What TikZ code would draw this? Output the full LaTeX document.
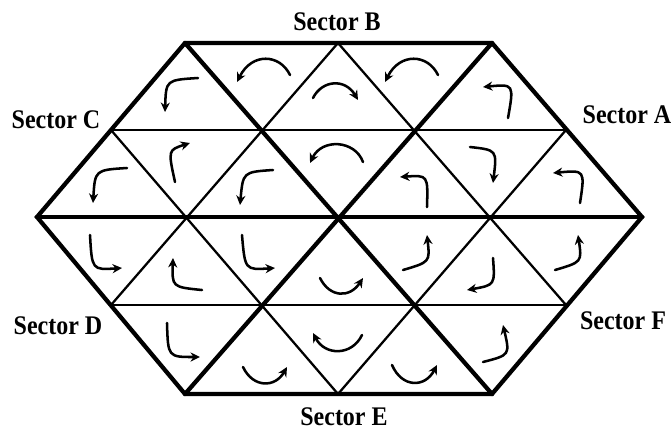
\documentclass[tikz,border=0pt]{standalone}
\usepackage{graphicx}
\usepackage{fontspec}
\setmainfont{Liberation Serif}
\usetikzlibrary{arrows.meta}
\tikzset{
  hexline/.style ={line width=3.2pt,line join=miter,line cap=round},
  gridline/.style={line width=1.7pt},
  flow/.style    ={line width=1.9pt,line cap=round,
                   -{Stealth[length=2.5mm,width=2.4mm]}},
  sector/.style  ={font=\fontsize{18}{20}\selectfont\bfseries,inner sep=0pt},
}
\newcommand{\sect}[1]{\scalebox{1}[1.12]{Sector #1}}

\begin{document}
\begin{tikzpicture}[x=0.75pt,y=-0.75pt]
\useasboundingbox (0,0) rectangle (671,430);
% lattice points, row by row
\coordinate (r0a) at (185,43); \coordinate (r0b) at (338,43); \coordinate (r0c) at (492,43);
\coordinate (r1a) at (111,130); \coordinate (r1b) at (263,130);
\coordinate (r1c) at (415,130); \coordinate (r1d) at (566,130);
\coordinate (r2a) at (37,217); \coordinate (r2b) at (188,217); \coordinate (r2c) at (340,217);
\coordinate (r2d) at (491,217); \coordinate (r2e) at (642,217);
\coordinate (r3a) at (111,305); \coordinate (r3b) at (263,305);
\coordinate (r3c) at (415,305); \coordinate (r3d) at (566,305);
\coordinate (r4a) at (185,394); \coordinate (r4b) at (338,394); \coordinate (r4c) at (492,394);
% thin lines inside the sectors
\draw[gridline] (r1a) -- (r1d); \draw[gridline] (r3a) -- (r3d);
\draw[gridline] (r1a) -- (r4b); \draw[gridline] (r0b) -- (r3d);
\draw[gridline] (r0b) -- (r3a); \draw[gridline] (r1d) -- (r4b);
% hexagon and sector borders
\draw[hexline] (r0a) -- (r0c) -- (r2e) -- (r4c) -- (r4a) -- (r2a) -- cycle;
\draw[hexline] (r2a) -- (r2e);
\draw[hexline] (r0a) -- (r4c); \draw[hexline] (r0c) -- (r4a);
% labels
\node[sector] (sA) at (627,115) {\sect{A}};
\node[sector] (sB) at (337,22) {\sect{B}};
\node[sector] (sC) at (56,120) {\sect{C}};
\node[sector] (sD) at (58,326) {\sect{D}};
\node[sector] (sE) at (344,417) {\sect{E}};
\node[sector] (sF) at (623,321) {\sect{F}};
% flow arrows, top band
\draw[flow] (198,78) .. controls (166,80) .. (165,112);
\draw[flow] (290,75) .. controls (280,54) and (252,52) .. (237,82);
\draw[flow] (313,98) .. controls (322,80) and (345,78) .. (358,100);
\draw[flow] (438,75) .. controls (428,54) and (400,52) .. (385,82);
\draw[flow] (508,118) .. controls (514,84) .. (483,87);
% second band
\draw[flow] (127,168) .. controls (95,170) .. (93,203);
\draw[flow] (175,182) .. controls (168,150) .. (190,143);
\draw[flow] (273,170) .. controls (243,172) .. (240,205);
\draw[flow] (363,162) .. controls (355,140) and (322,138) .. (310,163);
\draw[flow] (427,207) .. controls (428,175) .. (400,177);
\draw[flow] (470,147) .. controls (497,150) .. (493,183);
\draw[flow] (580,203) .. controls (585,170) .. (553,173);
% third band
\draw[flow] (90,235) .. controls (92,270) .. (122,268);
\draw[flow] (202,290) .. controls (172,287) .. (173,258);
\draw[flow] (242,235) .. controls (245,270) .. (275,268);
\draw[flow] (320,278) .. controls (330,298) and (350,298) .. (363,278);
\draw[flow] (403,270) .. controls (430,262) .. (427,235);
\draw[flow] (493,258) .. controls (495,285) .. (467,290);
\draw[flow] (555,270) .. controls (582,262) .. (578,235);
% bottom band
\draw[flow] (167,323) .. controls (168,357) .. (200,357);
\draw[flow] (243,367) .. controls (253,388) and (275,388) .. (287,367);
\draw[flow] (362,335) .. controls (352,356) and (325,356) .. (313,333);
\draw[flow] (392,365) .. controls (402,388) and (425,388) .. (437,365);
\draw[flow] (483,362) .. controls (510,355) .. (503,325);
\end{tikzpicture}
\end{document}
